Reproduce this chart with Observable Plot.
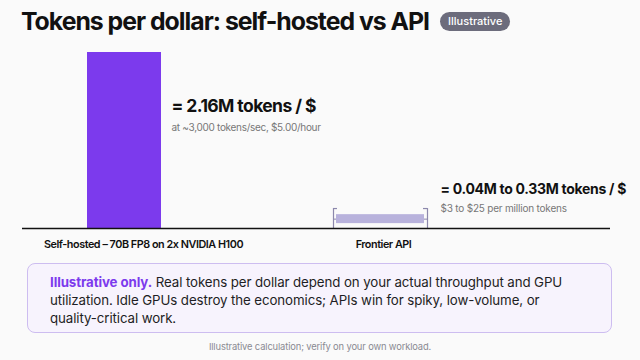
<!DOCTYPE html>
<html>
<head>
<meta charset="utf-8">
<script src="https://cdn.jsdelivr.net/npm/d3@7"></script>
<script src="https://cdn.jsdelivr.net/npm/@observablehq/plot@0.6"></script>
<style>
  html, body { margin: 0; padding: 0; }
  body { width: 640px; height: 360px; background: #fafafa; position: relative; overflow: hidden; font-family: Inter, "Open Sans", sans-serif; color: #111; }
  #title { position: absolute; left: 21px; top: 6px; font-size: 24.8px; font-weight: 700; letter-spacing: -1px; white-space: nowrap; z-index: 2; display: flex; align-items: center; }
  #badge { display: inline-block; margin-left: 11px; background: #6c6c7c; color: #fff; font-size: 11px; font-weight: 500; letter-spacing: 0; padding: 0 8px; height: 19px; line-height: 19px; border-radius: 10px; }
  #chart { position: absolute; left: 0; top: 0; z-index: 1; }
  #note { position: absolute; left: 27px; top: 263px; width: 585px; height: 70px; box-sizing: border-box; background: #f7f3fd; border: 1px solid #cdbdf0; border-radius: 8px; padding: 9px 20px 0 22px; font-size: 13.3px; line-height: 18px; color: #1e1e24; letter-spacing: -0.1px; }
  #note b { color: #7c3aed; font-weight: 700; }
  #foot { position: absolute; left: 0; width: 640px; top: 341px; text-align: center; font-size: 9.4px; letter-spacing: -0.15px; color: #8a8a92; }
</style>
</head>
<body>
<div id="title">Tokens per dollar: self-hosted vs API <span id="badge">Illustrative</span></div>
<div id="chart"></div>
<div id="note"><b>Illustrative only.</b> Real tokens per dollar depend on your actual throughput and GPU<br>utilization. Idle GPUs destroy the economics; APIs win for spiky, low-volume, or<br>quality-critical work.</div>
<div id="foot">Illustrative calculation; verify on your own workload.</div>
<script>
// ---- data ----
const categories = ["Self-hosted – 70B FP8 on 2x NVIDIA H100", "Frontier API"];
const selfHostedValue = 2.16;            // M tokens per $
const apiRange = [0.04, 0.33];           // M tokens per $ (label values)
const apiBandDrawn = [0.06, 0.17];       // band as drawn in the picture
const apiBracketTop = 0.245;             // bracket height as drawn
const valueLabels = ["= 2.16M tokens / $", "= 0.04M to 0.33M tokens / $"];
const noteLabels = ["at ~3,000 tokens/sec, $5.00/hour", "$3 to $25 per million tokens"];

const selfRow = [{cat: categories[0], v: selfHostedValue}];
const apiRow = [{cat: categories[1], lo: apiBandDrawn[0], hi: apiBandDrawn[1], top: apiBracketTop, mid: (apiBandDrawn[0] + apiBandDrawn[1]) / 2}];

const grey = "#8c88ac";
const chart = Plot.plot({
  width: 640,
  height: 255,
  marginTop: 52,
  marginBottom: 27,
  marginLeft: 22,
  marginRight: 30,
  style: {background: "transparent", fontFamily: "Inter, sans-serif", overflow: "visible"},
  x: {type: "band", domain: categories, paddingInner: 0.712, paddingOuter: 0.5, align: 0.253, axis: null},
  y: {domain: [0, selfHostedValue], axis: null},
  marks: [
    Plot.barY(selfRow, {x: "cat", y: "v", fill: "#7c3aed"}),
    // API range bracket
    Plot.tickY(apiRow, {x: "cat", y: "mid", stroke: grey, strokeWidth: 1, insetLeft: -10, insetRight: -10}),
    Plot.ruleX(apiRow, {x: "cat", y1: 0, y2: "top", stroke: grey, strokeWidth: 1.2, dx: -47}),
    Plot.ruleX(apiRow, {x: "cat", y1: 0, y2: "top", stroke: grey, strokeWidth: 1.2, dx: 47}),
    Plot.tickY(apiRow, {x: "cat", y: "top", stroke: grey, strokeWidth: 1.2, insetLeft: -10, insetRight: 80}),
    Plot.tickY(apiRow, {x: "cat", y: "top", stroke: grey, strokeWidth: 1.2, insetLeft: 80, insetRight: -10}),
    Plot.barY(apiRow, {x: "cat", y1: "lo", y2: "hi", fill: "#b8b2dc", insetLeft: -7, insetRight: -7}),
    Plot.ruleY([0], {stroke: "#111", strokeWidth: 1.5}),
    // annotations
    Plot.text([0], {x: () => categories[0], y: () => selfHostedValue, text: () => valueLabels[0], textAnchor: "start", dx: 47, dy: 54, fontSize: 17.5, fontWeight: 700, fill: "#111"}),
    Plot.text([0], {x: () => categories[0], y: () => selfHostedValue, text: () => noteLabels[0], textAnchor: "start", dx: 47, dy: 75, fontSize: 10, fill: "#777"}),
    Plot.text([0], {x: () => categories[1], y: () => 0, text: () => valueLabels[1], textAnchor: "start", dx: 60, dy: -39, fontSize: 14, fontWeight: 700, fill: "#111"}),
    Plot.text([0], {x: () => categories[1], y: () => 0, text: () => noteLabels[1], textAnchor: "start", dx: 60, dy: -20, fontSize: 10, fill: "#777"}),
    // category labels
    Plot.text([0], {x: () => categories[0], y: () => 0, text: () => categories[0], dx: 19, dy: 16, fontSize: 10.8, fontWeight: 600, fill: "#111"}),
    Plot.text([0], {x: () => categories[1], y: () => 0, text: () => categories[1], dx: 3, dy: 16, fontSize: 10.8, fontWeight: 600, fill: "#111"})
  ]
});
const spacing = [-0.6, -0.3, -0.3, -0.2, -0.45, -0.45];
d3.select(chart).selectAll("g[aria-label=text]").each(function(d, i) {
  this.setAttribute("letter-spacing", spacing[i] + "px");
});
document.getElementById("chart").appendChild(chart);
</script>
</body>
</html>
